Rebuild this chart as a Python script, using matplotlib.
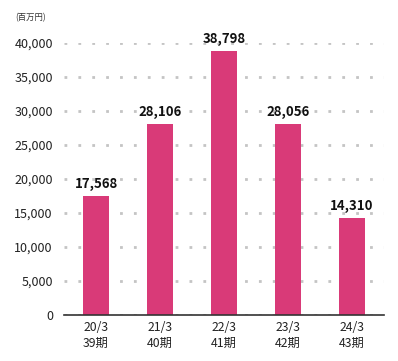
import numpy as np
import matplotlib
matplotlib.use("Agg")
from matplotlib import pyplot as plt

plt.rcParams['font.family'] = ['Noto Sans CJK JP', 'DejaVu Sans']

years = ["20/3", "21/3", "22/3", "23/3", "24/3"]
terms = ["39期", "40期", "41期", "42期", "43期"]
values = [17568, 28106, 38798, 28056, 14310]

fig = plt.figure(figsize=(3.98, 3.61), dpi=100)
ax = fig.add_axes([64/398, 46/361, 320/398, 272/361])

x = np.arange(len(values))
ax.bar(x, values, width=0.41, color="#d93a78", zorder=3)
for xi, v in zip(x, values):
    ax.text(xi, v + 700, "{:,}".format(v), ha="center", va="bottom",
            fontsize=9.5, fontweight="bold", color="#111111", clip_on=False, zorder=4)

ax.set_xlim(-0.5, 4.5)
ax.set_ylim(0, 40000)
ax.set_yticks(np.arange(0, 40001, 5000))
ax.set_yticklabels(["{:,}".format(t) for t in range(0, 40001, 5000)], fontsize=9, color="#222222")
ax.set_xticks(x)
ax.set_xticklabels([y + "\n" + t for y, t in zip(years, terms)], fontsize=8.8, color="#222222",
                   linespacing=1.3)
ax.tick_params(axis="both", length=0, pad=8)
ax.tick_params(axis="x", pad=4)

ax.yaxis.grid(True, linestyle=(0, (1, 4)), color="#c4c4c4", linewidth=2, zorder=0)
for s in ["top", "right", "left"]:
    ax.spines[s].set_visible(False)
ax.spines["bottom"].set_color("#333333")
ax.spines["bottom"].set_linewidth(1.2)
ax.spines["bottom"].set_zorder(5)

fig.text(15/398, 1 - 18/361, "(百万円)", fontsize=6, color="#333333", va="center", ha="left")

plt.savefig("out.png", dpi=100)
